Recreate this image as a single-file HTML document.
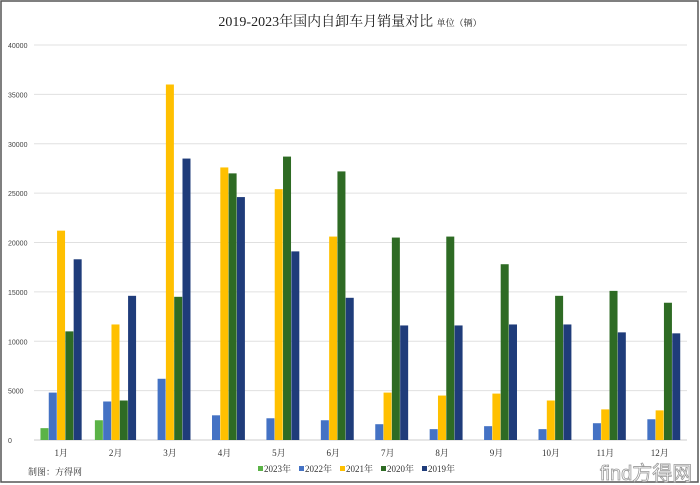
<!DOCTYPE html><html><head><meta charset="utf-8"><style>body{margin:0;background:#fff}svg{display:block}</style></head><body>
<svg id="c" width="700" height="485" xmlns="http://www.w3.org/2000/svg" font-family="Liberation Sans, Noto Sans CJK SC, sans-serif">
<rect x="1" y="1" width="697" height="481" fill="#fff" stroke="#555" stroke-width="1.5"/>
<text x="350" y="26" text-anchor="middle" font-size="14" fill="#222" font-family="Liberation Serif, Noto Serif CJK SC, serif">2019-2023年国内自卸车月销量对比 <tspan font-size="9">单位（辆）</tspan></text>
<text x="28" y="475" font-size="9" fill="#333" font-family="Liberation Serif, Noto Serif CJK SC, serif">制图：方得网</text>
<text x="600" y="480" font-size="20" fill="#fff" stroke="#999" stroke-width="0.8" font-family="Liberation Sans, Noto Sans CJK SC, sans-serif">find方得网</text>
<g id="g"></g>
</svg>
<script>
const months=["1月","2月","3月","4月","5月","6月","7月","8月","9月","10月","11月","12月"];
const yTicks=[0,5000,10000,15000,20000,25000,30000,35000,40000];
const seriesNames=["2023年","2022年","2021年","2020年","2019年"];
const s2023=[1200,2000,null,null,null,null,null,null,null,null,null,null];
const s2022=[4800,3900,6200,2500,2200,2000,1600,1100,1400,1100,1700,2100];
const s2021=[21200,11700,36000,27600,25400,20600,4800,4500,4700,4000,3100,3000];
const s2020=[11000,4000,14500,27000,28700,27200,20500,20600,17800,14600,15100,13900];
const s2019=[18300,14600,28500,24600,19100,14400,11600,11600,11700,11700,10900,10800];
const colors=["#5bb347","#4472c4","#ffc000","#2e6b24","#1f3c7a"];
const NS="http://www.w3.org/2000/svg",g=document.getElementById('g');
const x0=34,x1=687,y0=440,yTop=45,maxV=40000;
const y=v=>y0-(v/maxV)*(y0-yTop);
const gw=(x1-x0)/months.length,bw=8.3;
function mk(t,a){const e=document.createElementNS(NS,t);for(const k in a)e.setAttribute(k,a[k]);g.appendChild(e);return e;}
yTicks.forEach(v=>{const l=mk('line',{x1:x0,x2:x1,y1:y(v),y2:y(v),stroke:v?'#e0e0e0':'#ccc','stroke-width':1});


const t=mk('text',{x:8,y:y(v)+3,'font-size':7,fill:'#444'});t.textContent=v;

});
const all=[s2023,s2022,s2021,s2020,s2019];
months.forEach((m,i)=>{const gx=x0+i*gw+(gw-5*bw)/2;
all.forEach((s,j)=>{if(s[i]==null)return;const r=mk('rect',{x:gx+j*bw,y:y(s[i]),width:bw-0.3,height:y0-y(s[i]),fill:colors[j]});

});
const t=mk('text',{x:x0+i*gw+gw/2,y:456,'text-anchor':'middle','font-size':9,fill:'#333','font-family':'Liberation Serif, Noto Serif CJK SC, serif'});t.textContent=m;

});
let lx=258;
seriesNames.forEach((n,j)=>{const r=mk('rect',{x:lx,y:466,width:5,height:5,fill:colors[j]});


const t=mk('text',{x:lx+6,y:472,'font-size':9,fill:'#333','font-family':'Liberation Serif, Noto Serif CJK SC, serif'});t.textContent=n;

lx+=41;});
</script></body></html>
